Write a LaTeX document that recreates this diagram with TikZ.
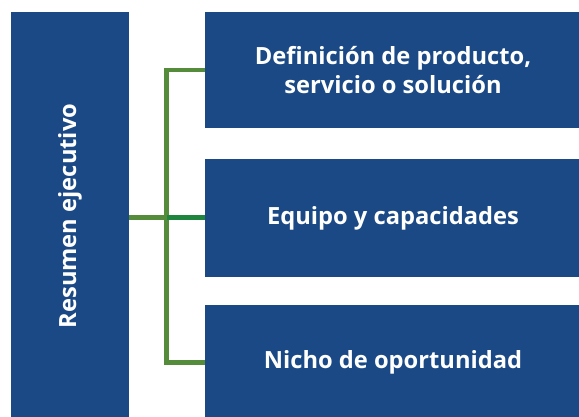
\documentclass[tikz,border=0pt]{standalone}
\usepackage{fontspec}
\setmainfont{Open Sans}[BoldFont={Open Sans Bold}]
\definecolor{boxblue}{RGB}{26,73,133}
\definecolor{branchgreen}{RGB}{84,140,60}
\definecolor{leafgreen}{RGB}{30,132,62}
\usepackage{tikz}
\usetikzlibrary{positioning,calc}

\begin{document}
\begin{tikzpicture}[x=1pt,y=-1pt,
    bluebox/.style={fill=boxblue, text=white, font=\fontsize{23.7}{29.5}\selectfont\bfseries, align=center, inner sep=0pt},
    branch/.style={draw=branchgreen, line width=4.5pt},
    leaf/.style={draw=leafgreen, line width=4.5pt}]
    \useasboundingbox (0,0) rectangle (579,417);
    % left block
    \node[bluebox, minimum width=118pt, minimum height=408pt] (summary) at (70,216)
        {\rotatebox{90}{Resumen ejecutivo}};
    % right blocks
    \node[bluebox, minimum width=376pt, minimum height=116pt] (product) at (393,70)
        {Definición de producto,\\servicio o solución};
    \node[bluebox, minimum width=376pt, minimum height=118pt] (team) at (393,218)
        {Equipo y capacidades};
    \node[bluebox, minimum width=376pt, minimum height=115pt] (niche) at (393,362.5)
        {Nicho de oportunidad};
    % connectors
    \coordinate (trunk) at (166.5,217.5);
    \draw[branch] (product.west) -| (trunk) |- (niche.west);
    \draw[branch] (summary.east |- trunk) -- (trunk);
    \draw[leaf] (trunk) -- (team.west |- trunk);
\end{tikzpicture}
\end{document}
